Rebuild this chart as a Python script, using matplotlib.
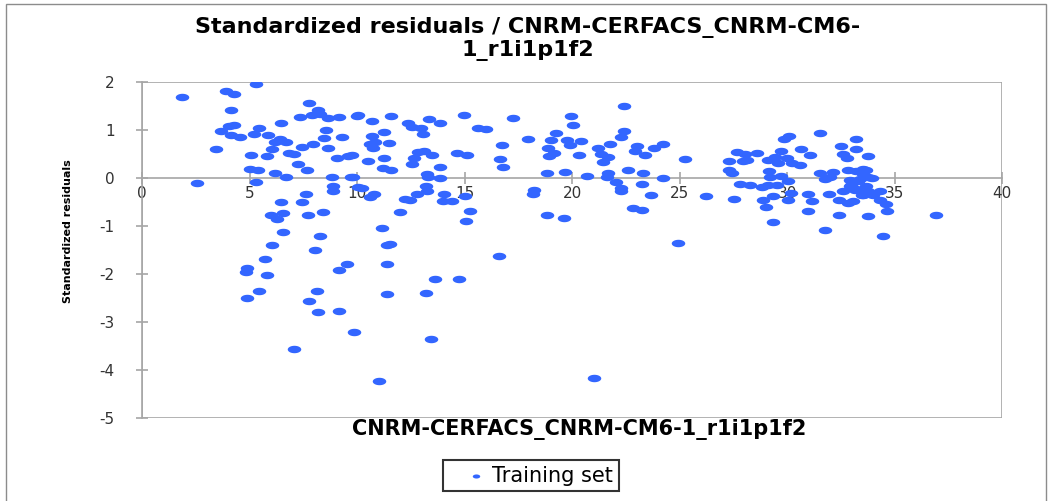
import matplotlib
matplotlib.use("Agg")
import matplotlib.pyplot as plt
import numpy as np
from matplotlib.path import Path
from matplotlib.patches import Rectangle
from matplotlib import font_manager

# Data: predicted value (x) vs standardized residual (y)
x_vals = [
    1.87, 2.53, 3.89, 4.26, 5.28, 4.12, 3.65, 4.04, 4.28, 4.11, 4.54, 3.43, 5.21, 5.44, 5.86, 6.45,
    5.04, 5.79, 6.04, 6.17, 6.40, 6.68, 5.00, 5.39, 6.17, 6.68, 5.28, 6.82, 7.06, 7.25, 7.64, 7.41,
    7.93, 7.33, 7.75, 8.16, 7.88, 8.27, 8.65, 9.15, 9.97, 8.54, 8.46, 9.29, 8.65, 9.04, 9.58, 8.81,
    9.69, 8.89, 8.89, 10.04, 6.45, 7.41, 7.60, 6.01, 6.53, 6.29, 7.72, 8.39, 6.53, 8.27, 6.04, 8.04,
    5.71, 4.89, 4.81, 5.79, 9.53, 9.14, 5.44, 4.89, 8.15, 7.75, 8.16, 9.14, 9.86, 7.07,
    10.05, 10.67, 11.56, 12.38, 12.53, 12.96, 13.35, 13.84, 13.04, 14.97, 15.63, 15.98, 17.26, 17.96,
    19.25, 19.00, 19.74, 19.95, 10.67, 11.26, 10.59, 10.85, 10.74, 11.49, 9.74, 10.51, 11.26, 11.21,
    11.55, 12.65, 12.53, 12.84, 13.10, 13.46, 13.84, 14.66, 15.09, 16.72, 16.64, 16.80, 18.89, 18.94,
    19.16, 18.81, 19.66, 19.90, 9.79, 13.23, 13.31, 13.84, 10.21, 10.78, 10.59, 13.20, 13.23, 12.76,
    14.03, 13.97, 14.39, 15.01, 12.22, 12.45, 11.99, 15.24, 15.05, 18.23, 18.16, 18.84, 19.62, 11.13,
    11.37, 11.53, 16.61, 11.40, 13.62, 14.74, 11.40, 13.20, 13.43, 11.01, 21.03,
    22.43, 20.05, 20.42, 20.32, 20.70, 21.22, 21.76, 22.27, 22.43, 21.33, 21.66, 21.45, 21.68, 21.60,
    22.04, 22.26, 22.26, 22.59, 23.00, 22.92, 23.39, 23.81, 24.21, 23.31, 24.21, 23.23, 23.65, 22.81,
    23.23, 25.27, 26.25, 27.31, 27.31, 27.42, 27.65, 27.53, 27.81, 24.93, 34.48,
    29.85, 30.10, 31.53, 33.20, 32.53, 33.23, 28.04, 28.61, 29.74, 30.64, 31.05, 32.61, 32.77, 33.77,
    28.13, 27.97, 29.13, 29.43, 29.98, 29.59, 30.25, 30.60, 29.17, 31.53, 32.15, 32.84, 33.23, 33.55,
    29.20, 29.74, 30.06, 31.76, 31.99, 32.92, 33.39, 33.77, 28.27, 28.82, 29.13, 29.51, 32.92, 33.23,
    33.69, 29.35, 30.20, 30.99, 31.96, 32.61, 33.55, 28.88, 30.06, 31.14, 32.42, 32.84, 33.08, 29.04,
    30.99, 32.42, 33.77, 29.35, 31.76,
    33.69, 33.55, 33.31, 33.93, 32.99, 33.16, 33.77, 34.31, 33.47, 34.01, 34.31, 34.62, 34.65, 36.92,
]
resid = [
    1.69, -0.10, 1.81, 1.74, 1.96, 1.42, 0.98, 1.08, 1.10, 0.90, 0.84, 0.60, 0.91, 1.03, 0.90, 1.13,
    0.47, 0.45, 0.60, 0.74, 0.81, 0.74, 0.19, 0.17, 0.10, 0.01, -0.08, 0.51, 0.49, 0.29, 0.16, 0.65,
    0.70, 1.26, 1.56, 1.42, 1.31, 1.33, 1.24, 1.26, 1.29, 1.00, 0.82, 0.85, 0.61, 0.42, 0.46, 0.01,
    0.01, -0.18, -0.28, -0.20, -0.50, -0.50, -0.33, -0.77, -0.74, -0.86, -0.77, -0.71, -1.12, -1.22, -1.40, -1.50,
    -1.69, -1.87, -1.97, -2.02, -1.80, -1.92, -2.35, -2.51, -2.35, -2.56, -2.79, -2.78, -3.20, -3.57,
    1.31, 1.19, 1.28, 1.14, 1.05, 1.04, 1.22, 1.13, 0.91, 1.31, 1.04, 1.01, 1.24, 0.80,
    0.94, 0.78, 0.78, 1.28, 0.88, 0.96, 0.71, 0.74, 0.62, 0.73, 0.47, 0.34, 0.42, 0.21,
    0.17, 0.41, 0.29, 0.54, 0.56, 0.48, 0.23, 0.51, 0.48, 0.69, 0.39, 0.23, 0.63, 0.46,
    0.51, 0.10, 0.13, 0.68, 0.01, 0.08, 0.01, -0.01, -0.21, -0.34, -0.41, -0.18, -0.28, -0.33,
    -0.34, -0.49, -0.49, -0.38, -0.44, -0.46, -0.71, -0.69, -0.90, -0.25, -0.33, -0.78, -0.83, -1.04,
    -1.40, -1.38, -1.62, -1.80, -2.10, -2.10, -2.41, -2.39, -3.35, -4.24, -4.16,
    1.50, 1.10, 0.76, 0.47, 0.04, 0.63, 0.70, 0.84, 0.98, 0.49, 0.44, 0.32, 0.11, 0.01,
    -0.08, -0.21, -0.27, 0.17, 0.67, 0.56, 0.47, 0.62, 0.70, 0.10, -0.01, -0.12, -0.36, -0.62,
    -0.67, 0.39, -0.38, 0.34, 0.17, 0.09, 0.54, -0.45, -0.12, -1.36, -1.21,
    0.81, 0.86, 0.93, 0.81, 0.67, 0.60, 0.49, 0.51, 0.56, 0.60, 0.48, 0.49, 0.42, 0.46,
    0.37, 0.34, 0.37, 0.44, 0.42, 0.30, 0.30, 0.26, 0.15, 0.10, 0.13, 0.16, 0.15, 0.18,
    0.01, 0.04, -0.06, -0.03, 0.01, -0.05, -0.03, 0.01, -0.15, -0.19, -0.15, -0.15, -0.17, -0.24,
    -0.17, -0.38, -0.31, -0.34, -0.34, -0.27, -0.35, -0.46, -0.46, -0.48, -0.46, -0.53, -0.48, -0.60,
    -0.69, -0.77, -0.80, -0.93, -1.09,
    0.16, 0.08, -0.06, -0.01, -0.15, -0.26, -0.27, -0.27, -0.35, -0.35, -0.46, -0.55, -0.69, -0.77,
]
x_ticks = [0, 5, 10, 15, 20, 25, 30, 35, 40]
y_ticks = [-5, -4, -3, -2, -1, 0, 1, 2]

title = "Standardized residuals / CNRM-CERFACS_CNRM-CM6-\n1_r1i1p1f2"
x_label = "CNRM-CERFACS_CNRM-CM6-1_r1i1p1f2"
y_label = "Standardized residuals"
series_name = "Training set"

blue = "#3366ff"
grey = "#a6a6a6"

plt.rcParams["axes.unicode_minus"] = False

# pick a narrow font for the vertical label if one is installed
installed = {f.name for f in font_manager.fontManager.ttflist}
narrow = "Liberation Sans Narrow" if "Liberation Sans Narrow" in installed else "DejaVu Sans"

# wide ellipse marker (the original chart is stretched sideways)
t = np.linspace(0, 2 * np.pi, 41)
ellipse = Path(np.column_stack([np.cos(t), 0.55 * np.sin(t)]), closed=True)

fig = plt.figure(figsize=(10.51, 5.01), dpi=100)
ax = fig.add_axes([142.3 / 1051, 1 - 418 / 501, (1002 - 142.3) / 1051, (418 - 81.7) / 501])

ax.scatter(x_vals, resid, marker=ellipse, s=95, color=blue, linewidths=0, label=series_name, zorder=3)

ax.set_xlim(0, 40)
ax.set_ylim(-5, 2)
ax.set_xticks(x_ticks)
ax.set_yticks(y_ticks)

for side in ["top", "right"]:
    ax.spines[side].set_visible(False)
ax.spines["left"].set_position(("data", 0))
ax.spines["bottom"].set_position(("data", 0))
for side in ["left", "bottom"]:
    ax.spines[side].set_color(grey)
    ax.spines[side].set_linewidth(1.2)
# plot-area border
ax.add_patch(Rectangle((0, 0), 1, 1, transform=ax.transAxes, fill=False,
                       edgecolor=grey, linewidth=1.2, zorder=1))

ax.tick_params(axis="both", direction="inout", length=8, width=1.2, color=grey,
               labelsize=11, labelcolor="#333333")
ax.tick_params(axis="y", pad=16)
ax.tick_params(axis="x", pad=2)

fig.text(528 / 1051, 1 - 39 / 501, title, ha="center", va="center", fontsize=16,
         fontweight="bold", linespacing=1.1)
fig.text(579 / 1051, 1 - 430 / 501, x_label, ha="center", va="center", fontsize=15,
         fontweight="bold")
fig.text(68 / 1051, 1 - 231 / 501, y_label, ha="center", va="center", rotation=90,
         fontsize=8, fontweight="bold", family=narrow)

leg = ax.legend(loc="center", bbox_to_anchor=(531 / 1051, 1 - 475.5 / 501),
                bbox_transform=fig.transFigure, fontsize=15, frameon=True, fancybox=False,
                handlelength=2.6, handletextpad=-0.5, borderpad=0.25, markerscale=0.55)
leg.get_frame().set_edgecolor("black")
leg.get_frame().set_linewidth(1.5)

# outer chart border
fig.patches.append(Rectangle((6 / 1051, -0.05), 1040 / 1051, 1 - 4 / 501 + 0.05,
                             transform=fig.transFigure, fill=False, edgecolor="#8c8c8c",
                             linewidth=1.0))

fig.savefig("out.png", dpi=100)
